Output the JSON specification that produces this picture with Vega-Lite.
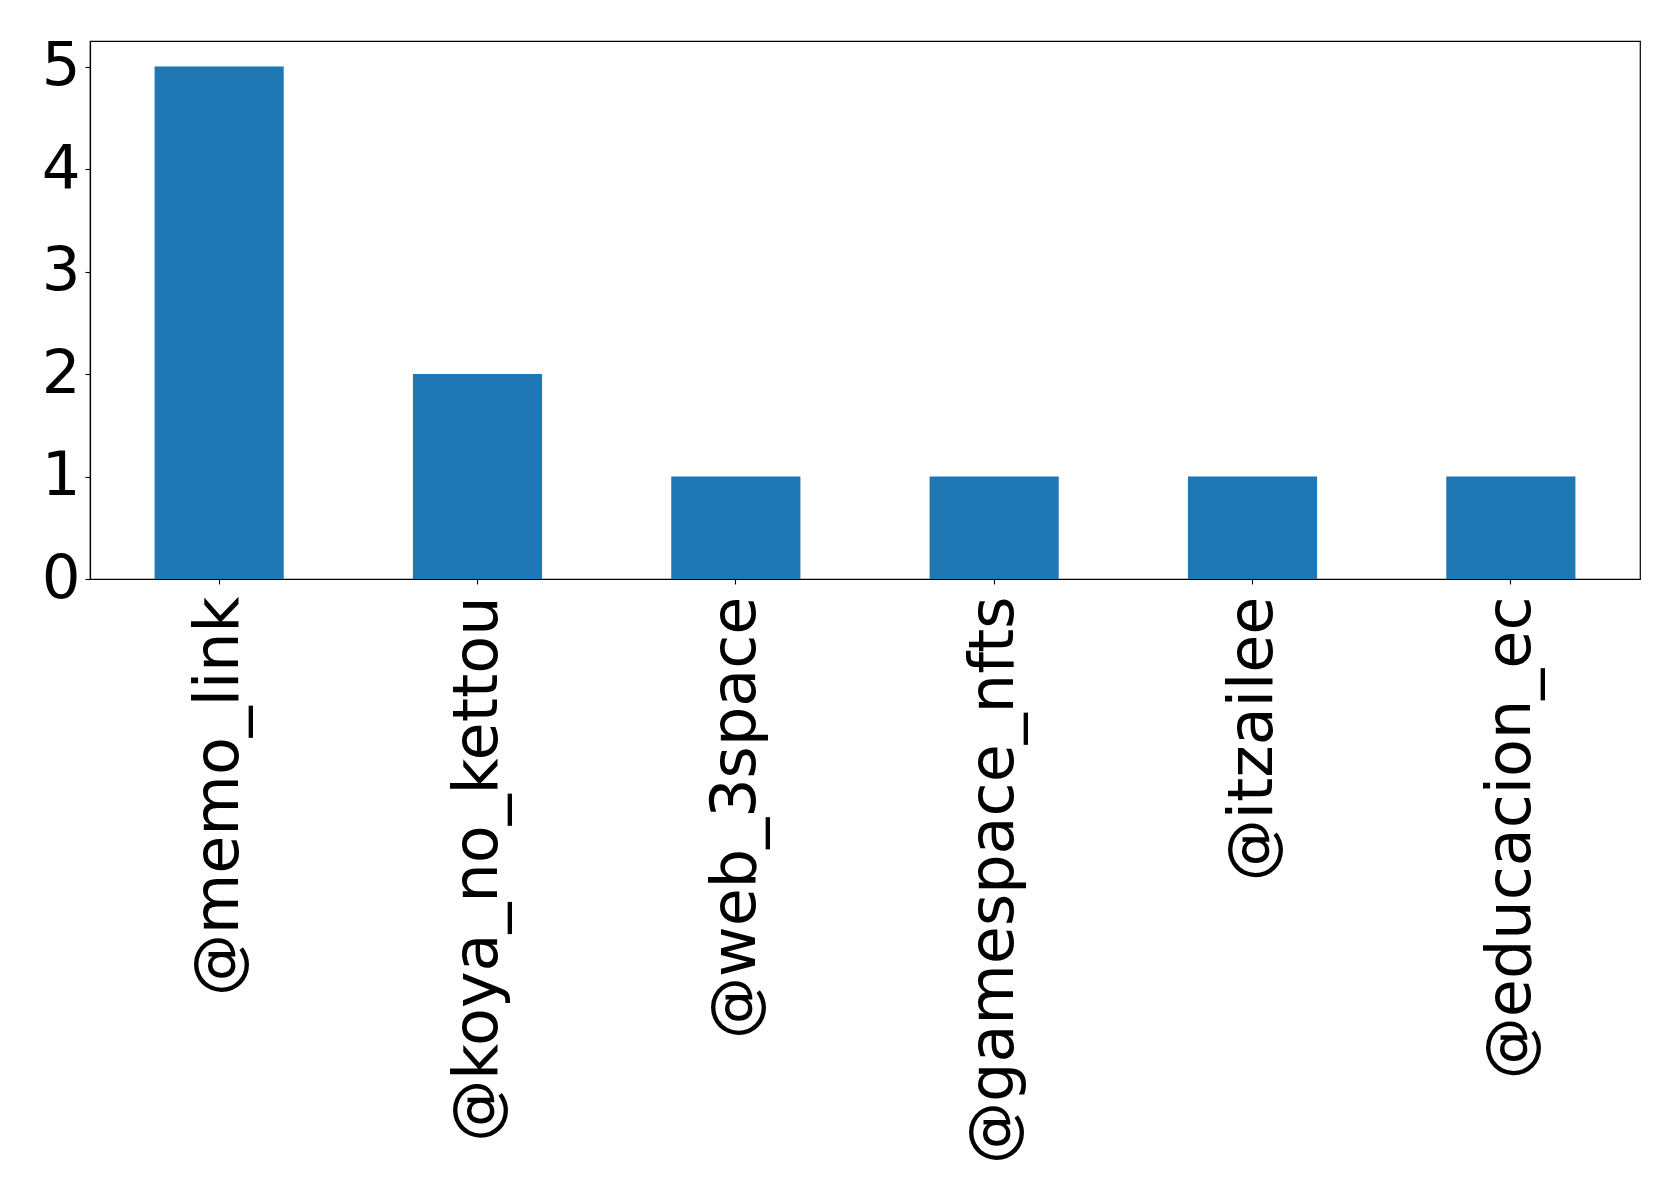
{
  "$schema": "https://vega.github.io/schema/vega-lite/v6.json",
  "autosize": {"type": "none"},
  "padding": {"left": 90, "top": 41, "right": 39, "bottom": 621},
  "width": 1550,
  "height": 538,
  "background": "white",
  "config": {
    "view": {"stroke": "black", "strokeWidth": 1.2},
    "font": "DejaVu Sans",
    "axis": {
      "labelFont": "DejaVu Sans",
      "labelFontSize": 61,
      "labelColor": "black",
      "tickColor": "black",
      "tickSize": 5,
      "tickWidth": 1.1,
      "labelPadding": 5,
      "domainColor": "black",
      "domainWidth": 1.2,
      "grid": false,
      "title": null
    }
  },
  "data": {
    "values": [
      {"user": "@memo_link", "count": 5},
      {"user": "@koya_no_kettou", "count": 2},
      {"user": "@web_3space", "count": 1},
      {"user": "@gamespace_nfts", "count": 1},
      {"user": "@itzailee", "count": 1},
      {"user": "@educacion_ec", "count": 1}
    ]
  },
  "mark": {"type": "bar", "color": "#1f77b4"},
  "encoding": {
    "x": {
      "field": "user",
      "type": "nominal",
      "sort": null,
      "scale": {"paddingInner": 0.5, "paddingOuter": 0.25},
      "axis": {"labelAngle": -90, "labelAlign": "right", "labelBaseline": "middle", "labelLimit": 0, "labelOverlap": false, "labelFontSize": 62, "labelPadding": 12}
    },
    "y": {
      "field": "count",
      "type": "quantitative",
      "scale": {"domain": [0, 5.25], "nice": false, "zero": true},
      "axis": {"values": [0, 1, 2, 3, 4, 5], "labelFlush": false, "labelBaseline": "middle"}
    }
  }
}
